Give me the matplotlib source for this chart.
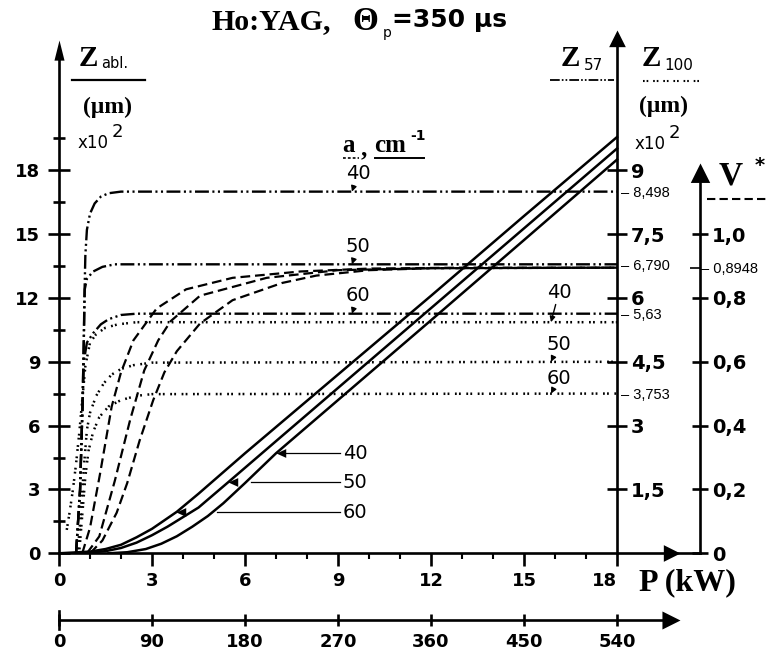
import numpy as np
import matplotlib.pyplot as plt
from matplotlib.lines import Line2D
from matplotlib.transforms import blended_transform_factory

plt.rcParams['lines.scale_dashes'] = False

# ---------------- data ----------------
# P in kW, Z_abl in 10^2 um (left scale)
p_abl_60 = [0, 1.0, 1.5, 2.0, 2.5, 3.0, 3.8, 4.5, 6.0, 9.0, 12.0, 15.0, 18.0]
z_abl_60 = [0, 0.08, 0.2, 0.4, 0.75, 1.15, 1.95, 2.8, 4.7, 8.4, 12.1, 15.85, 19.56]
p_abl_50 = [0.7, 1.5, 2.0, 2.5, 3.0, 3.5, 4.0, 4.5, 5.45, 7.0, 9.0, 12.0, 15.0, 18.0]
z_abl_50 = [0, 0.1, 0.25, 0.5, 0.85, 1.25, 1.7, 2.15, 3.33, 5.27, 7.77, 11.52, 15.27, 19.02]
p_abl_40 = [1.6, 2.2, 2.8, 3.3, 3.8, 4.3, 4.8, 5.3, 6.0, 7.0, 9.0, 12.0, 15.0, 18.0]
z_abl_40 = [0, 0.05, 0.2, 0.45, 0.8, 1.25, 1.75, 2.35, 3.3, 4.7, 7.2, 10.95, 14.72, 18.5]

# Z57 in 10^2 um (right scale)
p57_40 = [0.55, 0.68, 0.76, 0.8, 0.82, 0.85, 0.9, 1.0, 1.15, 1.35, 1.6, 2.0, 18.0]
z57_40 = [0, 1.5, 3.5, 5.0, 6.0, 7.0, 7.6, 7.98, 8.22, 8.38, 8.46, 8.498, 8.498]
p57_50 = [0.55, 0.68, 0.76, 0.8, 0.83, 0.9, 1.1, 1.4, 1.8, 18.0]
z57_50 = [0, 1.5, 3.5, 5.0, 6.2, 6.45, 6.62, 6.73, 6.79, 6.79]
p57_60 = [0.55, 0.68, 0.76, 0.8, 0.9, 1.1, 1.35, 1.6, 2.0, 2.5, 18.0]
z57_60 = [0, 1.5, 3.5, 4.5, 4.95, 5.17, 5.38, 5.5, 5.6, 5.63, 5.63]

# Z100 in 10^2 um (right scale)
p100_40 = [0.25, 0.35, 0.45, 0.55, 0.65, 0.75, 0.85, 1.0, 1.2, 1.5, 1.9, 2.5, 18.0]
z100_40 = [0.55, 1.0, 1.5, 2.1, 2.8, 3.6, 4.4, 4.95, 5.15, 5.3, 5.38, 5.43, 5.43]
p100_50 = [0.6, 0.7, 0.8, 0.9, 1.0, 1.2, 1.45, 1.7, 2.0, 2.4, 3.0, 18.0]
z100_50 = [0, 0.9, 2.0, 2.9, 3.3, 3.7, 4.0, 4.2, 4.33, 4.42, 4.48, 4.5]
p100_60 = [0.65, 0.75, 0.85, 0.95, 1.1, 1.3, 1.6, 2.0, 2.5, 3.0, 18.0]
z100_60 = [0, 0.9, 1.8, 2.4, 2.85, 3.2, 3.45, 3.6, 3.7, 3.74, 3.753]

# V* (second right scale)
pv_40 = [0.75, 1.0, 1.32, 1.7, 2.0, 2.4, 3.15, 4.1, 5.6, 7.8, 10.0, 13.0, 18.0]
v_40 = [0, 0.08, 0.247, 0.46, 0.567, 0.667, 0.767, 0.827, 0.863, 0.883, 0.892, 0.8948, 0.8948]
pv_50 = [0.9, 1.3, 1.8, 2.3, 2.75, 3.2, 3.6, 4.55, 6.7, 9.0, 12.0, 18.0]
v_50 = [0, 0.053, 0.227, 0.42, 0.573, 0.667, 0.727, 0.807, 0.863, 0.887, 0.893, 0.8948]
pv_60 = [1.0, 1.4, 1.86, 2.2, 2.6, 3.04, 3.4, 3.8, 4.55, 5.6, 7.2, 8.3, 10.0, 12.0, 18.0]
v_60 = [0, 0.04, 0.127, 0.22, 0.353, 0.48, 0.567, 0.633, 0.72, 0.793, 0.847, 0.87, 0.887, 0.893, 0.8948]

a_labels = ['40', '50', '60']
x_ticks = [0, 3, 6, 9, 12, 15, 18]
y_ticks = [0, 3, 6, 9, 12, 15, 18]
z_ticks = [1.5, 3, 4.5, 6, 7.5, 9]
z_tick_labels = ['1,5', '3', '4,5', '6', '7,5', '9']
z_marks = [8.498, 6.790, 5.63, 3.753]
z_mark_labels = ['8,498', '6,790', '5,63', '3,753']
v_ticks = [0, 0.2, 0.4, 0.6, 0.8, 1.0]
v_tick_labels = ['0', '0,2', '0,4', '0,6', '0,8', '1,0']
v_mark = 0.8948
v_mark_label = '0,8948'
e_ticks = [0, 90, 180, 270, 360, 450, 540]

# ---------------- layout ----------------
W, H = 777, 652
X0, Y0 = 59, 553.3
SX, SY = 31.0, 21.28
XMAX, YMAX = 21.6, 25.0
XV = 20.68          # position of the V* axis (kW units)

fig = plt.figure(figsize=(W / 100, H / 100), dpi=100)
ax = fig.add_axes([X0 / W, 1 - Y0 / H, XMAX * SX / W, YMAX * SY / H])
ax.set_xlim(0, XMAX)
ax.set_ylim(0, YMAX)
ax.patch.set_alpha(0)
ax2 = ax.twinx()
ax2.set_ylim(0, YMAX / 2)
ax3 = ax.twinx()
ax3.set_ylim(0, YMAX / 15)

LW = 1.9
BOLD = dict(family='DejaVu Sans', weight='bold')
for a in (ax, ax2, ax3):
    for s in a.spines.values():
        s.set_visible(False)
        s.set_linewidth(LW)

ax.spines['left'].set_visible(True)
ax.spines['left'].set_bounds(0, 23.2)
ax.spines['bottom'].set_visible(True)
ax.spines['bottom'].set_bounds(0, XV)
ax2.spines['right'].set_visible(True)
ax2.spines['right'].set_position(('data', 18))
ax2.spines['right'].set_bounds(0, 11.9)
ax3.spines['right'].set_visible(True)
ax3.spines['right'].set_position(('data', XV))
ax3.spines['right'].set_bounds(0, 1.16)

# arrow heads
up_n = [(0, 0), (-0.25, -1), (0.25, -1), (0, 0)]
up_w = [(0, 0), (-0.5, -1), (0.5, -1), (0, 0)]
rt_w = [(0, 0), (-1, 0.5), (-1, -0.5), (0, 0)]
ax.plot(0, 24.1, marker=up_n, ms=29, mew=0, color='k', clip_on=False)
ax2.plot(18, 12.3, marker=up_w, ms=24, mew=0, color='k', clip_on=False)
ax3.plot(XV, 1.222, marker=up_w, ms=28, mew=0, color='k', clip_on=False)
ax.plot(20.03, 0, marker=rt_w, ms=24, mew=0, color='k', clip_on=False)

# left axis ticks
ax.set_yticks(y_ticks, [str(v) for v in y_ticks], **BOLD)
ax.set_yticks(np.arange(1.5, 20, 3), minor=True)
ax.tick_params(axis='y', which='major', direction='inout', length=16, width=LW,
               labelsize=13, pad=5.5)
ax.tick_params(axis='y', which='minor', direction='inout', length=8, width=LW)
# bottom axis ticks
ax.set_xticks(x_ticks, [str(v) for v in x_ticks], **BOLD)
ax.set_xticks(np.arange(1, 18, 1), minor=True)
ax.tick_params(axis='x', which='major', direction='out', length=9, width=LW,
               labelsize=13, pad=4.5)
ax.tick_params(axis='x', which='minor', direction='out', length=4, width=1.5)
ax.get_xticklabels()[-1].set_horizontalalignment('right')

# Z57 / Z100 axis
ax2.set_yticks(z_ticks, z_tick_labels, **BOLD)
ax2.set_yticks(z_marks, ['\u2013 ' + s for s in z_mark_labels], minor=True,
               family='Liberation Sans', size=10.5)
ax2.tick_params(axis='y', which='major', direction='inout', length=15, width=LW,
                labelsize=14, pad=2.5)
ax2.tick_params(axis='y', which='minor', length=0, pad=3)

# V* axis
ax3.set_yticks(v_ticks, v_tick_labels, **BOLD)
ax3.set_yticks([v_mark], ['\u2013 ' + v_mark_label], minor=True,
               family='Liberation Sans', size=10.5)
ax3.tick_params(axis='y', which='major', direction='inout', length=11, width=LW,
                labelsize=14, pad=3)
ax3.tick_params(axis='y', which='minor', direction='in', length=7, width=1.2, pad=1)

# lower energy axis
loc = -(620 - Y0) / (YMAX * SY)
sec = ax.secondary_xaxis(loc, functions=(lambda v: v * 30, lambda v: v / 30))
sec.set_xticks(e_ticks, [str(v) for v in e_ticks], **BOLD)
sec.tick_params(axis='x', direction='inout', length=9, width=LW, labelsize=13, pad=5)
sec.spines['bottom'].set_linewidth(LW)
sec.spines['bottom'].set_bounds(0, 585)
trans = blended_transform_factory(ax.transData, ax.transAxes)
ax.plot([0, 0], [loc - 0.017, loc + 0.017], color='k', lw=LW, transform=trans,
        clip_on=False)
ax.plot(20.03, loc, marker=rt_w, ms=26, mew=0, color='k', transform=trans,
        clip_on=False)

# ---------------- curves ----------------
DDOT = (10, 2.5, 1.5, 2.5, 1.5, 2.5)
DOTS = (1.3, 1.6, 1.3, 4.0)
DASH = (7, 3.5)
for p, z in ((p_abl_40, z_abl_40), (p_abl_50, z_abl_50), (p_abl_60, z_abl_60)):
    ax.plot(p, z, color='k', lw=1.8)
for p, z in ((p57_40, z57_40), (p57_50, z57_50), (p57_60, z57_60)):
    ax2.plot(p, z, color='k', lw=1.7, dashes=DDOT)
for p, z in ((p100_40, z100_40), (p100_50, z100_50), (p100_60, z100_60)):
    ax2.plot(p, z, color='k', lw=1.8, dashes=DOTS)
for p, v in ((pv_40, v_40), (pv_50, v_50), (pv_60, v_60)):
    ax3.plot(p, v, color='k', lw=1.6, dashes=DASH)

# labels on the Z57 plateaus
ARW = dict(arrowstyle='-|>', color='k', lw=1.0, shrinkA=0, shrinkB=0, mutation_scale=8)
for lab, z in zip(a_labels, (z57_40[-1], z57_50[-1], z57_60[-1])):
    ax2.annotate(lab, xy=(9.45, z), xytext=(6, 18), textcoords='offset pixels',
                 ha='center', va='center', size=14, family='DejaVu Sans',
                 arrowprops=ARW)
# labels on the Z100 plateaus
for lab, z, dy in zip(a_labels, (z100_40[-1], z100_50[-1], z100_60[-1]), (30, 17, 15)):
    ax2.annotate(lab, xy=(15.87, z), xytext=(8, dy), textcoords='offset pixels',
                 ha='center', va='center', size=14, family='DejaVu Sans',
                 arrowprops=ARW)
# leaders on the Z_abl lines
lead_y = [4.7, 3.35, 1.93]
left_tri = [(0, 0), (1, 0.45), (1, -0.45), (0, 0)]
for lab, ym, (p, z) in zip(a_labels, lead_y,
                           ((p_abl_40, z_abl_40), (p_abl_50, z_abl_50), (p_abl_60, z_abl_60))):
    xm = np.interp(ym, z, p)
    xb = np.interp(ym, z_abl_40, p_abl_40)
    ax.plot([xb + 0.15, 9.05], [ym, ym], color='k', lw=0.9)
    ax.plot(xm, ym, marker=left_tri, ms=14, mew=0, color='k')
    ax.text(9.15, ym, lab, ha='left', va='center', size=14, family='DejaVu Sans')


# ---------------- figure texts ----------------
def t(px, py, s, **kw):
    kw.setdefault('va', 'center')
    kw.setdefault('ha', 'left')
    fig.text(px / W, 1 - py / H, s, **kw)


def hline(x1, x2, py, **kw):
    fig.add_artist(Line2D([x1 / W, x2 / W], [1 - py / H] * 2, color='k', **kw))


SERIF = dict(family='Liberation Serif', weight='bold')
t(212, 22, 'Ho:YAG,', size=21.5, **SERIF)
t(352, 22, '\u0398', size=24, **SERIF)
t(383, 33, 'p', size=10, family='DejaVu Sans')
t(392, 20, '=350 \u03bcs', size=18, **BOLD)

t(79, 58, 'Z', size=21, **SERIF)
t(101, 64, 'abl.', size=10.5, family='DejaVu Sans')
hline(72, 145, 80, lw=1.6)
t(108, 107, '(\u03bcm)', size=17, ha='center', **SERIF)
t(78, 143, 'x10', size=12, family='DejaVu Sans')
t(112, 132, '2', size=13, family='DejaVu Sans')

t(561, 59, 'Z', size=21, **SERIF)
t(584, 65, '57', size=11, family='DejaVu Sans')
hline(550, 614, 80, lw=1.3, dashes=(7, 1.5, 1.2, 1.5, 1.2, 1.5))
t(642, 59, 'Z', size=21, **SERIF)
t(664, 65, '100', size=11, family='DejaVu Sans')
hline(643, 699, 81, lw=1.5, dashes=(1.2, 1.4, 1.2, 3.5))
t(663, 106, '(\u03bcm)', size=17, ha='center', **SERIF)
t(635, 144, 'x10', size=12, family='DejaVu Sans')
t(669, 133, '2', size=13, family='DejaVu Sans')

t(719, 176, 'V', size=24, **SERIF)
t(755, 166, '*', size=14, **BOLD)
hline(707, 767, 199, lw=1.5, dashes=(6, 3))

t(342, 146, 'a', size=18, **SERIF)
t(361, 149, ',', size=18, **SERIF)
t(374, 146, 'cm', size=18, **SERIF)
t(410, 136, '-1', size=10, **BOLD)
hline(343, 359, 158, lw=1.2, dashes=(2, 1.5))
hline(375, 424, 158, lw=1.4)

t(639, 583, 'P (kW)', size=23, **SERIF)

fig.savefig('out.png', dpi=100)
